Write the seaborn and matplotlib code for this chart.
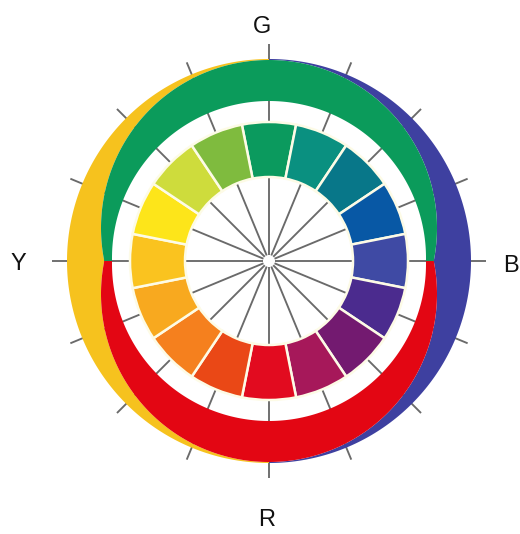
import numpy as np
import matplotlib
matplotlib.use('Agg')
import matplotlib.pyplot as plt
from matplotlib.patches import Wedge
import seaborn as sns

# 16-step colour circle, clockwise from the top (G)
ring_colors = ['#0b9a5e', '#0a9080', '#087789', '#0858a5', '#3f4aa4', '#4b2b8e',
               '#731a70', '#a6185a', '#e20b1f', '#ea4816', '#f5801e', '#f8a91f',
               '#fac31f', '#fde51a', '#cedc3c', '#7fbb3e']
# outer bands
band_names = ['Y', 'G', 'B', 'R']
band_colors = ['#f6c21e', '#0b9b5b', '#3e40a0', '#e30613']
# axis letters and where they sit (data units = pixels from the centre)
label_text = ['G', 'Y', 'B', 'R']
label_x = [-7, -251, 242, -2]
label_y = [234, -3, -5, -259]

sns.set_theme(style='white')
plt.rcParams['font.family'] = ['Liberation Sans', 'DejaVu Sans']

fig = plt.figure(figsize=(5.2, 5.34), dpi=100)
ax = fig.add_axes([0, 0, 1, 1])
ax.set_xlim(-269, 251)
ax.set_ylim(-273, 261)
ax.set_aspect('equal')
ax.axis('off')

R0 = 202          # outer radius of the whole disc
d, Rg = 33, 168   # offset / radius of the green and red circles
e, Ri = 3, 157    # inner edge of the green and red bands


def arc(cx, cy, r, t0, t1, n=200):
    t = np.radians(np.linspace(t0, t1, n))
    return cx + r * np.cos(t), cy + r * np.sin(t)


a_out = np.degrees(np.arcsin(d / Rg))
a_in = np.degrees(np.arcsin(e / Ri))

# yellow crescent (left)
x1, y1 = arc(0, 0, R0, 90, 270)
x2, y2 = arc(0, -d, Rg, 270, 180 - a_out)
x3, y3 = arc(0, d, Rg, 180 + a_out, 90)
ax.fill(np.r_[x1, x2, x3], np.r_[y1, y2, y3], color=band_colors[0], lw=0, zorder=2)

# blue crescent (right)
x1, y1 = arc(0, 0, R0, -90, 90)
x2, y2 = arc(0, d, Rg, 90, -a_out)
x3, y3 = arc(0, -d, Rg, a_out, -90)
ax.fill(np.r_[x1, x2, x3], np.r_[y1, y2, y3], color=band_colors[2], lw=0, zorder=2)

# green band (top)
x1, y1 = arc(0, d, Rg, -a_out, 180 + a_out)
x2, y2 = arc(0, e, Ri, 180 + a_in, -a_in)
ax.fill(np.r_[x1, x2], np.r_[y1, y2], color=band_colors[1], lw=0, zorder=2)

# red band (bottom)
x1, y1 = arc(0, -d, Rg, a_out, -180 - a_out)
x2, y2 = arc(0, -e, Ri, -180 - a_in, a_in)
ax.fill(np.r_[x1, x2], np.r_[y1, y2], color=band_colors[3], lw=0, zorder=2)

# spokes and ticks, under everything
angles = 90 - 22.5 * np.arange(16)
for a in angles:
    t = np.radians(a)
    r_end = 217 if a % 90 == 0 else 215
    ax.plot([6 * np.cos(t), r_end * np.cos(t)], [6 * np.sin(t), r_end * np.sin(t)],
            color='#6a6a6a', lw=1.35, zorder=1, solid_capstyle='butt')

# inner colour ring
for c, col in zip(angles, ring_colors):
    ax.add_patch(Wedge((0, 0), 139, c - 11.25, c + 11.25, width=55,
                       facecolor=col, edgecolor='#fdfbe6', lw=1.8, zorder=3))

for txt, x, y in zip(label_text, label_x, label_y):
    ax.text(x, y, txt, fontsize=17, ha='center', va='center', color='#111111')

fig.savefig('out.png', dpi=100)
